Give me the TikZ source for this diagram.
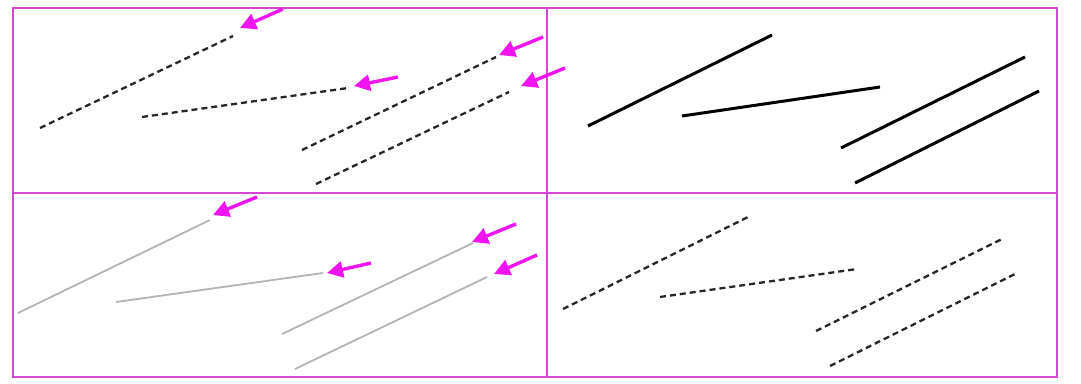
\documentclass[tikz,border=0pt]{standalone}
\usetikzlibrary{arrows.meta}
\definecolor{framemag}{RGB}{214,70,214}
\definecolor{arrmag}{RGB}{240,20,240}
\definecolor{lgray}{RGB}{180,180,180}
\tikzset{
  frameline/.style={draw=framemag,line width=2.4pt},
  dashseg/.style={draw=black!85,line width=2.3pt,dash pattern=on 6pt off 4pt},
  solidseg/.style={draw=black,line width=3pt},
  grayseg/.style={draw=lgray,line width=1.8pt},
  pointer/.style={draw=arrmag,line width=3.4pt,-{Triangle[length=16pt,width=16pt]}}
}
\begin{document}
\begin{tikzpicture}[x=1pt,y=-1pt]
\useasboundingbox (0,0) rectangle (1081,383);
\fill[white] (0,0) rectangle (1081,383);
% frame
\coordinate (fTL) at (13,8);
\coordinate (fBR) at (1057,377);
\coordinate (mT) at (547,8);
\coordinate (mB) at (547,377);
\coordinate (mL) at (13,193);
\coordinate (mR) at (1057,193);
\draw[frameline] (fTL) rectangle (fBR);
\draw[frameline] (mT) -- (mB);
\draw[frameline] (mL) -- (mR);
% top-left dashed
\coordinate (a1s) at (40,128); \coordinate (a1e) at (233,36);
\coordinate (a2s) at (142,117); \coordinate (a2e) at (348,88);
\coordinate (a3s) at (302,150); \coordinate (a3e) at (496,57);
\coordinate (a4s) at (316,184); \coordinate (a4e) at (509,92);
\draw[dashseg] (a1s) -- (a1e);
\draw[dashseg] (a2s) -- (a2e);
\draw[dashseg] (a3s) -- (a3e);
\draw[dashseg] (a4s) -- (a4e);
\coordinate (p1t) at (283,9); \coordinate (p1h) at (240,28);
\coordinate (p2t) at (398,77); \coordinate (p2h) at (354,86);
\coordinate (p3t) at (543,37); \coordinate (p3h) at (499,55);
\coordinate (p4t) at (565,68); \coordinate (p4h) at (521,86);
\draw[pointer] (p1t) -- (p1h);
\draw[pointer] (p2t) -- (p2h);
\draw[pointer] (p3t) -- (p3h);
\draw[pointer] (p4t) -- (p4h);
% top-right solid
\coordinate (b1s) at (588,126); \coordinate (b1e) at (772,35);
\coordinate (b2s) at (682,116); \coordinate (b2e) at (880,87);
\coordinate (b3s) at (841,148); \coordinate (b3e) at (1025,57);
\coordinate (b4s) at (855,183); \coordinate (b4e) at (1039,91);
\draw[solidseg] (b1s) -- (b1e);
\draw[solidseg] (b2s) -- (b2e);
\draw[solidseg] (b3s) -- (b3e);
\draw[solidseg] (b4s) -- (b4e);
% bottom-left gray
\coordinate (c1s) at (18,313); \coordinate (c1e) at (210,220);
\coordinate (c2s) at (116,302); \coordinate (c2e) at (323,273);
\coordinate (c3s) at (282,334); \coordinate (c3e) at (473,243);
\coordinate (c4s) at (295,369); \coordinate (c4e) at (487,277);
\draw[grayseg] (c1s) -- (c1e);
\draw[grayseg] (c2s) -- (c2e);
\draw[grayseg] (c3s) -- (c3e);
\draw[grayseg] (c4s) -- (c4e);
\coordinate (q1t) at (257,197); \coordinate (q1h) at (213,215);
\coordinate (q2t) at (371,263); \coordinate (q2h) at (327,273);
\coordinate (q3t) at (516,224); \coordinate (q3h) at (472,242);
\coordinate (q4t) at (537,255); \coordinate (q4h) at (494,274);
\draw[pointer] (q1t) -- (q1h);
\draw[pointer] (q2t) -- (q2h);
\draw[pointer] (q3t) -- (q3h);
\draw[pointer] (q4t) -- (q4h);
% bottom-right dashed
\coordinate (d1s) at (563,309); \coordinate (d1e) at (748,217);
\coordinate (d2s) at (660,297); \coordinate (d2e) at (857,269);
\coordinate (d3s) at (816,331); \coordinate (d3e) at (1002,239);
\coordinate (d4s) at (830,366); \coordinate (d4e) at (1015,274);
\draw[dashseg] (d1s) -- (d1e);
\draw[dashseg] (d2s) -- (d2e);
\draw[dashseg] (d3s) -- (d3e);
\draw[dashseg] (d4s) -- (d4e);
\end{tikzpicture}
\end{document}
